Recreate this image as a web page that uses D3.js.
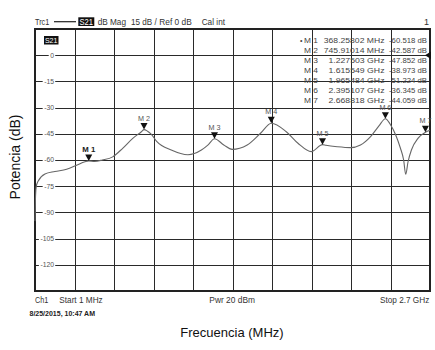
<!DOCTYPE html>
<html><head><meta charset="utf-8">
<script src="https://cdn.jsdelivr.net/npm/d3@7"></script>
<style>body{margin:0;background:#fff}svg{display:block;font-family:"Liberation Sans",Arial,sans-serif}</style>
</head><body><svg id="c" width="435" height="350"></svg>
<script>
// ---- data ----
const freqMHz = [1,5,10,23,69,137,217,285,342,368.26,408,461,532,600,669,728,745.91,770,793,834,932,1046,1138,1182,1227.5,1291,1348,1451,1542,1615.5,1718,1798,1889,1965.5,1989,2066,2157,2225,2294,2351,2395.1,2428,2465,2497,2520,2534,2550,2573,2619,2668.8,2700];
const powerDb = [-95,-80,-75,-72,-68,-66.6,-65.3,-63,-61,-60.52,-60.8,-60,-58.2,-53.3,-47.6,-43.8,-42.59,-43.5,-45,-49.5,-54.3,-57,-54.3,-51.5,-47.85,-51.4,-53.9,-51.4,-44.7,-38.97,-43.8,-50.4,-55.2,-51.22,-51.6,-52.4,-52.9,-51.4,-46.6,-40.5,-36.35,-39.5,-45.5,-53,-60,-68.2,-61,-54.3,-47.5,-44.06,-43];
const markerNames = ["M 1","M 2","M 3","M 4","M 5","M 6","M 7"];
const markerFreqMHz = [368.25802,745.91014,1227.503,1615.549,1965.484,2395.107,2668.818];
const markerDb = [-60.518,-42.587,-47.852,-38.973,-51.224,-36.345,-44.059];
const markerFreqText = ["368.25802 MHz","745.91014 MHz","1.227503 GHz","1.615549 GHz","1.965484 GHz","2.395107 GHz","2.668818 GHz"];
const markerDbText = ["-60.518 dB","-42.587 dB","-47.852 dB","-38.973 dB","-51.224 dB","-36.345 dB","-44.059 dB"];
const yTicks = [0,-15,-30,-45,-60,-75,-90,-105,-120];
const yGrid = [15,0,-15,-30,-45,-60,-75,-90,-105,-120,-135];
const xGrid = [1,270.9,540.8,810.7,1080.6,1350.5,1620.4,1890.3,2160.2,2430.1,2700];

// ---- layout ----
const L = 35, R = 430, T = 29, B = 291;
const svg = d3.select("#c");
const x = d3.scaleLinear().domain([1,2700]).range([L,R]);
const y = d3.scaleLinear().domain([15,-135]).range([T,B]);
const gridCol = "#2a2a2a", txtCol = "#444";

// grid
svg.append("g").attr("transform",`translate(0,${B})`)
  .call(d3.axisBottom(x).tickValues(xGrid).tickSize(-(B-T)).tickFormat(""))
  .call(g=>g.select(".domain").remove())
  .selectAll("line").attr("stroke",gridCol).attr("stroke-width",1).attr("shape-rendering","crispEdges");
const yAx = svg.append("g").attr("transform",`translate(${L},0)`)
  .call(d3.axisLeft(y).tickValues(yGrid).tickSize(-(R-L)).tickFormat(""))
  .call(g=>g.select(".domain").remove());
yAx.selectAll("line").attr("stroke",gridCol).attr("stroke-width",1).attr("shape-rendering","crispEdges");

// y tick labels with white knockout
const yl = svg.append("g");
yTicks.forEach(v=>{
  const t = yl.append("text").attr("x",54).attr("y",y(v)+2.4)
    .attr("text-anchor","end").attr("font-size",6.8).attr("fill","#555").text(v);
  const bb = t.node().getBBox();
  yl.insert("rect","text").attr("x",bb.x-1.5).attr("y",y(v)-3).attr("width",bb.width+2.5).attr("height",6).attr("fill","#fff");
});

// frame
svg.append("rect").attr("x",L).attr("y",T).attr("width",R-L).attr("height",B-T)
  .attr("fill","none").attr("stroke","#222").attr("stroke-width",1.2).attr("shape-rendering","crispEdges");

// trace
const pts = freqMHz.map((f,i)=>[f,powerDb[i]]);
svg.append("path").datum(pts)
  .attr("d",d3.line().x(d=>x(d[0])).y(d=>y(d[1])).curve(d3.curveMonotoneX))
  .attr("fill","none").attr("stroke","#666").attr("stroke-width",1.1);

// markers
markerNames.forEach((m,i)=>{
  const px = x(markerFreqMHz[i]), py = y(markerDb[i]);
  svg.append("path").attr("d",`M${px-3.5},${py-6.5}L${px+3.5},${py-6.5}L${px},${py}Z`).attr("fill","#111");
  svg.append("text").attr("x",px).attr("y",py-9).attr("text-anchor","middle")
    .attr("font-size",8).attr("font-weight",i===0?"bold":"normal")
    .attr("fill",i===0?"#222":"#555").attr("textLength",i===0?13:12).attr("lengthAdjust","spacingAndGlyphs").text(m);
});

// ref level triangle at right
svg.append("path").attr("d",`M${R-5},${y(0)}L${R+1},${y(0)-3.8}L${R+1},${y(0)+3.8}Z`).attr("fill","#111");

// S21 inner box
svg.append("rect").attr("x",44).attr("y",36).attr("width",14.5).attr("height",8.5).attr("fill","#111");
svg.append("text").attr("x",51.2).attr("y",43.3).attr("text-anchor","middle").attr("font-size",8)
  .attr("fill","#fff").attr("textLength",12.5).attr("lengthAdjust","spacingAndGlyphs").text("S21");

// marker table
markerNames.forEach((m,i)=>{
  const by = 42.5 + i*10;
  if(i===0) svg.append("text").attr("x",300).attr("y",by).attr("font-size",7).attr("fill",txtCol).text("•");
  svg.append("text").attr("x",304).attr("y",by).attr("font-size",7).attr("fill",txtCol)
    .attr("textLength",14).attr("lengthAdjust","spacingAndGlyphs").text(m);
  const fl = markerFreqText[i].length*4.67;
  svg.append("text").attr("x",384.5-fl).attr("y",by).attr("font-size",7).attr("fill",txtCol)
    .attr("textLength",fl).attr("lengthAdjust","spacingAndGlyphs").text(markerFreqText[i]);
  svg.append("text").attr("x",389).attr("y",by).attr("font-size",7).attr("fill",txtCol)
    .attr("textLength",38).attr("lengthAdjust","spacingAndGlyphs").text(markerDbText[i]);
});

// header
const hdr = (t,xx,w,opts={})=>svg.append("text").attr("x",xx).attr("y",opts.y||25).attr("font-size",opts.fs||9)
  .attr("fill",opts.fill||"#333").attr("font-weight",opts.fw||"normal")
  .attr("textLength",w).attr("lengthAdjust","spacingAndGlyphs").text(t);
hdr("Trc1",35,14.3);
svg.append("line").attr("x1",54).attr("x2",76).attr("y1",21.7).attr("y2",21.7).attr("stroke","#222").attr("stroke-width",1.2);
svg.append("rect").attr("x",78.3).attr("y",17.3).attr("width",16).attr("height",8.7).attr("fill","#111");
hdr("S21",79.5,13.5,{fill:"#fff",fs:8.5,y:24.6});
hdr("dB Mag",97.7,28.3);
hdr("15 dB /",131,25.7);
hdr("Ref 0 dB",159.3,32.4);
hdr("Cal int",201.7,23.3);
svg.append("text").attr("x",429).attr("y",25).attr("text-anchor","end").attr("font-size",9).attr("fill","#333").text("1");

// footer
hdr("Ch1",35,13.3,{y:303.3,fs:8.5});
hdr("Start  1 MHz",59.3,43.4,{y:303.3,fs:8.5});
hdr("Pwr  20 dBm",209.3,45.7,{y:303.3,fs:8.5});
hdr("Stop  2.7 GHz",380,49.3,{y:303.3,fs:8.5});
hdr("8/25/2015, 10:47 AM",29.5,65.5,{y:315.5,fs:6.8,fw:"bold",fill:"#222"});

// axis titles
svg.append("text").attr("x",232).attr("y",336.5).attr("text-anchor","middle").attr("font-size",13)
  .attr("fill","#111").text("Frecuencia (MHz)");
svg.append("text").attr("transform","translate(20,157) rotate(-90)").attr("text-anchor","middle")
  .attr("font-size",14).attr("fill","#111").text("Potencia (dB)");
</script></body></html>
